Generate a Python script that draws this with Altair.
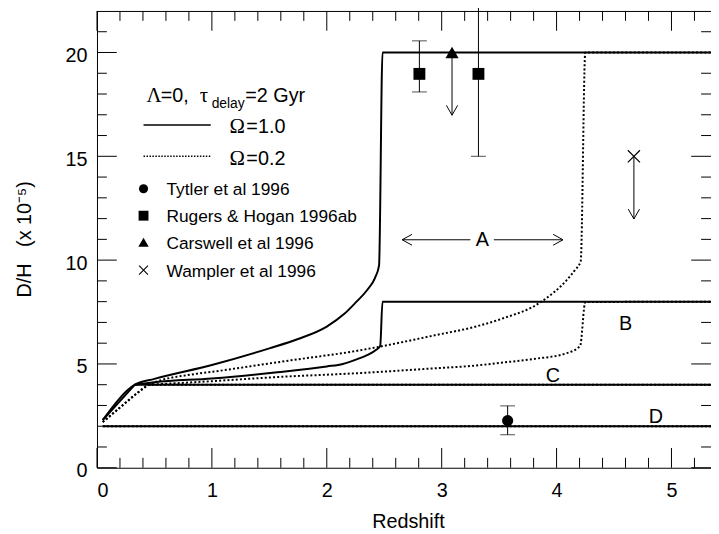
import altair as alt
import pandas as pd

W, H = 621, 462
XMAX, YMAX = 5.344, 22.0
FONT = "Liberation Sans"
SERIF = "Liberation Serif"

# ---------------- model curves: D/H (x1e-5) vs redshift ----------------
# Omega = 1.0 (solid)
om1_A_z = [0.05, 0.33, 0.5, 1.0, 1.5, 1.75, 2.0, 2.15, 2.25, 2.35, 2.42, 2.455, 2.485, 5.35]
om1_A_v = [2.3, 4.0, 4.28, 4.95, 5.75, 6.2, 6.8, 7.4, 7.95, 8.55, 9.15, 9.75, 20.0, 20.0]
om1_B_z = [0.33, 0.5, 1.0, 1.57, 2.0, 2.14, 2.24, 2.35, 2.43, 2.465, 2.485, 5.35]
om1_B_v = [4.0, 4.12, 4.3, 4.6, 4.88, 5.0, 5.18, 5.42, 5.68, 5.87, 8.0, 8.0]
om1_C_z = [0.05, 0.33, 5.35]
om1_C_v = [2.3, 4.0, 4.0]
om1_D_z = [0.05, 5.35]
om1_D_v = [2.0, 2.0]
# Omega = 0.2 (dotted)
om2_A_z = [0.05, 0.2, 0.35, 0.45, 0.86, 1.0, 1.57, 1.72, 2.25, 2.43, 2.94, 3.29, 3.52, 3.86, 4.09, 4.16, 4.21, 4.25, 5.35]
om2_A_v = [2.2, 2.9, 3.6, 4.0, 4.52, 4.62, 5.08, 5.2, 5.62, 5.8, 6.38, 6.79, 7.17, 7.97, 9.05, 9.52, 9.95, 20.0, 20.0]
om2_B_z = [0.45, 1.0, 1.57, 2.25, 2.94, 3.29, 3.52, 3.80, 4.09, 4.205, 4.25, 5.35]
om2_B_v = [4.0, 4.17, 4.37, 4.55, 4.79, 4.92, 5.06, 5.24, 5.52, 5.87, 7.98, 8.0]
om2_C_z = [0.05, 0.2, 0.35, 0.45, 5.35]
om2_C_v = [2.2, 2.9, 3.6, 4.0, 4.0]
om2_D_z = [0.05, 5.35]
om2_D_v = [2.0, 2.0]

# ---------------- observations ----------------
tytler_z, tytler_v, tytler_lo, tytler_hi = [3.574], [2.27], [1.59], [2.98]
rugers_z, rugers_v = [2.806, 3.32], [18.97, 18.97]
rugers_lo, rugers_hi = [18.1, 15.0], [20.56, 22.4]
carswell_z, carswell_v, carswell_lim = [3.09], [20.0], [16.98]
wampler_z, wampler_v, wampler_lim = [4.673], [15.0], [11.98]

# error-bar caps
cap_z = [3.574, 3.574, 2.806, 2.806, 3.32]
cap_v = [1.59, 2.98, 18.1, 20.56, 15.0]

# ---------------- annotations ----------------
regions = ["A", "B", "C", "D"]
region_z = [3.354, 4.601, 3.967, 4.865]
region_v = [10.95, 6.9, 4.44, 2.43]
arrowA_z1, arrowA_z2, arrowA_v = [2.656, 3.454], [3.25, 4.056], [10.98, 10.98]
arrowA_left_z, arrowA_right_z = [2.656], [4.056]

# legend
leg_line_z1, leg_line_z2 = [0.405], [0.99]
leg_solid_v, leg_dot_v = [16.51], [15.0]
leg_marker_z = 0.405
leg_marker_v = [13.44, 12.14, 10.86, 9.52]
leg_text = ["Tytler et al 1996", "Rugers & Hogan 1996ab", "Carswell et al 1996", "Wampler et al 1996"]
leg_text_z = 0.605
leg_text_v = [13.13, 11.83, 10.55, 9.21]

hdr_text = ["=0,", "delay", "=2 Gyr", "=1.0", "=0.2"]
hdr_z = [0.554, 0.998, 1.291, 1.30, 1.30]
hdr_v = [17.62, 17.33, 17.62, 16.11, 14.6]
hdr_fs = [20, 14, 20, 20, 20]
greek_text = ["Λ", "τ", "Ω", "Ω"]
greek_z = [0.43, 0.895, 1.153, 1.153]
greek_v = [17.62, 17.62, 16.11, 14.6]

# ticks
x_major = [0, 1, 2, 3, 4, 5]
x_minor = [0.2, 0.4, 0.6, 0.8, 1.2, 1.4, 1.6, 1.8, 2.2, 2.4, 2.6, 2.8,
           3.2, 3.4, 3.6, 3.8, 4.2, 4.4, 4.6, 4.8, 5.2]
y_major = [0, 5, 10, 15, 20]
y_minor = [1, 2, 3, 4, 6, 7, 8, 9, 11, 12, 13, 14, 16, 17, 18, 19, 21]

# ---------------- encodings ----------------
xscale = alt.Scale(domain=[0, XMAX], nice=False, zero=False)
yscale = alt.Scale(domain=[0, YMAX], nice=False, zero=False)
xaxis = alt.Axis(values=x_major, format="d", ticks=False, tickSize=0, grid=False,
                 domain=True, domainColor="black", domainWidth=1,
                 labelFont=FONT, labelFontSize=20, labelColor="black", labelPadding=13,
                 title="Redshift", titleFont=FONT, titleFontSize=20, titleFontWeight="normal",
                 titleColor="black", titleX=314.5, titleY=60, titleBaseline="alphabetic",
                 titleAlign="center", titleAnchor="start")
yaxis = alt.Axis(values=y_major, format="d", ticks=False, tickSize=0, grid=False,
                 domain=True, domainColor="black", domainWidth=1,
                 labelFont=FONT, labelFontSize=20, labelColor="black", labelPadding=10,
                 labelOffset=3,
                 title="D/H\u00a0\u00a0\u00a0(x 10⁻⁵)", titleFont=FONT, titleFontSize=20,
                 titleFontWeight="normal", titleColor="black", titleAngle=270,
                 titleX=-67, titleY=230.5, titleBaseline="alphabetic", titleAlign="center",
                 titleAnchor="start")


def X(f="z"):
    return alt.X(f"{f}:Q", scale=xscale, axis=xaxis)


def Y(f="v"):
    return alt.Y(f"{f}:Q", scale=yscale, axis=yaxis)


def curves(items):
    frames = []
    for name, z, v in items:
        frames.append(pd.DataFrame({"z": z, "v": v, "curve": name, "i": list(range(len(z)))}))
    return pd.concat(frames, ignore_index=True)


solid_smooth = curves([("A", om1_A_z, om1_A_v), ("B", om1_B_z, om1_B_v)])
solid_lin = curves([("C", om1_C_z, om1_C_v), ("D", om1_D_z, om1_D_v)])
dot_smooth = curves([("A", om2_A_z, om2_A_v), ("B", om2_B_z, om2_B_v)])
dot_lin = curves([("C", om2_C_z, om2_C_v), ("D", om2_D_z, om2_D_v)])

layers = []

# frame top line
frame_df = pd.DataFrame({"k": [0]})
layers.append(alt.Chart(frame_df).mark_rule(color="black", strokeWidth=1).encode(
    x=alt.value(0), x2=alt.value(W), y=alt.value(0.5)))

# ticks (inward)
xmaj = pd.DataFrame({"z": x_major})
xmin = pd.DataFrame({"z": x_minor})
ymaj = pd.DataFrame({"v": y_major})
ymin = pd.DataFrame({"v": y_minor})
for df, L in [(xmaj, 20), (xmin, 10)]:
    layers.append(alt.Chart(df).mark_rule(color="black", strokeWidth=1).encode(
        x=X(), y=alt.value(H), y2=alt.value(H - L)))
    layers.append(alt.Chart(df).mark_rule(color="black", strokeWidth=1).encode(
        x=X(), y=alt.value(0), y2=alt.value(L)))
for df, L in [(ymaj, 20), (ymin, 10)]:
    layers.append(alt.Chart(df).mark_rule(color="black", strokeWidth=1).encode(
        y=Y(), x=alt.value(0), x2=alt.value(L)))
    layers.append(alt.Chart(df).mark_rule(color="black", strokeWidth=1).encode(
        y=Y(), x=alt.value(W), x2=alt.value(W - L)))

# model curves
for df, interp in [(dot_smooth, "monotone"), (dot_lin, "linear")]:
    layers.append(alt.Chart(df).mark_line(color="black", strokeWidth=2, strokeDash=[2, 2.2],
                                          clip=True, interpolate=interp).encode(
        x=X(), y=Y(), detail="curve:N", order="i:Q"))
for df, interp in [(solid_smooth, "monotone"), (solid_lin, "linear")]:
    layers.append(alt.Chart(df).mark_line(color="black", strokeWidth=2, clip=True,
                                          interpolate=interp).encode(
        x=X(), y=Y(), detail="curve:N", order="i:Q"))

# error bars
err_df = pd.DataFrame({"z": tytler_z + rugers_z, "lo": tytler_lo + rugers_lo,
                       "hi": tytler_hi + rugers_hi})
layers.append(alt.Chart(err_df).mark_rule(color="black", strokeWidth=1).encode(
    x=X(), y=Y("lo"), y2="hi:Q"))
cap_df = pd.DataFrame({"z": cap_z, "v": cap_v})
layers.append(alt.Chart(cap_df).mark_tick(color="black", orient="horizontal", size=15,
                                          thickness=1).encode(x=X(), y=Y()))

# upper-limit arrows
lim_df = pd.DataFrame({"z": carswell_z + wampler_z, "v": carswell_v + wampler_v,
                       "lim": carswell_lim + wampler_lim})
layers.append(alt.Chart(lim_df).mark_rule(color="black", strokeWidth=1).encode(
    x=X(), y=Y(), y2="lim:Q"))
layers.append(alt.Chart(lim_df).mark_point(shape="M-0.57,-1L0,0L0.57,-1", size=400,
                                           filled=False, color="black", strokeWidth=1,
                                           opacity=1).encode(x=X(), y=Y("lim")))

# symbols
layers.append(alt.Chart(pd.DataFrame({"z": tytler_z, "v": tytler_v})).mark_point(
    shape="circle", size=127, filled=True, color="black", opacity=1).encode(x=X(), y=Y()))
layers.append(alt.Chart(pd.DataFrame({"z": rugers_z, "v": rugers_v})).mark_point(
    shape="square", size=144, filled=True, color="black", opacity=1).encode(x=X(), y=Y()))
layers.append(alt.Chart(pd.DataFrame({"z": carswell_z, "v": carswell_v})).mark_point(
    shape="triangle-up", size=177, filled=True, color="black", opacity=1).encode(x=X(), y=Y()))
layers.append(alt.Chart(pd.DataFrame({"z": wampler_z, "v": wampler_v})).mark_point(
    shape="M-1,-1L1,1M1,-1L-1,1", size=151, filled=False, color="black", strokeWidth=1.2,
    opacity=1).encode(x=X(), y=Y()))

# region A arrow
arrA = pd.DataFrame({"z": arrowA_z1, "z2": arrowA_z2, "v": arrowA_v})
layers.append(alt.Chart(arrA).mark_rule(color="black", strokeWidth=1).encode(
    x=X(), x2="z2:Q", y=Y()))
layers.append(alt.Chart(pd.DataFrame({"z": arrowA_left_z, "v": [arrowA_v[0]]})).mark_point(
    shape="M1,-0.55L0,0L1,0.55", size=400, filled=False, color="black", strokeWidth=1,
    opacity=1).encode(x=X(), y=Y()))
layers.append(alt.Chart(pd.DataFrame({"z": arrowA_right_z, "v": [arrowA_v[0]]})).mark_point(
    shape="M-1,-0.55L0,0L-1,0.55", size=400, filled=False, color="black", strokeWidth=1,
    opacity=1).encode(x=X(), y=Y()))

# region labels
reg_df = pd.DataFrame({"z": region_z, "v": region_v, "t": regions})
layers.append(alt.Chart(reg_df).mark_text(font=FONT, fontSize=20, color="black",
                                          align="center", baseline="middle").encode(
    x=X(), y=Y(), text="t:N"))

# legend: line samples
layers.append(alt.Chart(pd.DataFrame({"z": leg_line_z1, "z2": leg_line_z2, "v": leg_solid_v})
                        ).mark_rule(color="black", strokeWidth=1.5).encode(x=X(), x2="z2:Q", y=Y()))
layers.append(alt.Chart(pd.DataFrame({"z": leg_line_z1, "z2": leg_line_z2, "v": leg_dot_v})
                        ).mark_rule(color="black", strokeWidth=1.5, strokeDash=[1.5, 1.5]).encode(
    x=X(), x2="z2:Q", y=Y()))

# legend: markers
layers.append(alt.Chart(pd.DataFrame({"z": [leg_marker_z], "v": [leg_marker_v[0]]})).mark_point(
    shape="circle", size=85, filled=True, color="black", opacity=1).encode(x=X(), y=Y()))
layers.append(alt.Chart(pd.DataFrame({"z": [leg_marker_z], "v": [leg_marker_v[1]]})).mark_point(
    shape="square", size=100, filled=True, color="black", opacity=1).encode(x=X(), y=Y()))
layers.append(alt.Chart(pd.DataFrame({"z": [leg_marker_z], "v": [leg_marker_v[2]]})).mark_point(
    shape="triangle-up", size=110, filled=True, color="black", opacity=1).encode(x=X(), y=Y()))
layers.append(alt.Chart(pd.DataFrame({"z": [leg_marker_z], "v": [leg_marker_v[3]]})).mark_point(
    shape="M-1,-1L1,1M1,-1L-1,1", size=81, filled=False, color="black", strokeWidth=1.1,
    opacity=1).encode(x=X(), y=Y()))

# legend: texts
leg_df = pd.DataFrame({"z": leg_text_z, "v": leg_text_v, "t": leg_text})
layers.append(alt.Chart(leg_df).mark_text(font=FONT, fontSize=17.5, color="black",
                                          align="left", baseline="alphabetic").encode(
    x=X(), y=Y(), text="t:N"))
hdr_df = pd.DataFrame({"z": hdr_z, "v": hdr_v, "t": hdr_text, "fs": hdr_fs})
layers.append(alt.Chart(hdr_df).mark_text(font=FONT, color="black", align="left",
                                          baseline="alphabetic").encode(
    x=X(), y=Y(), text="t:N", size=alt.Size("fs:Q", scale=None)))
greek_df = pd.DataFrame({"z": greek_z, "v": greek_v, "t": greek_text})
layers.append(alt.Chart(greek_df).mark_text(font=SERIF, fontSize=21, color="black",
                                            align="left", baseline="alphabetic").encode(
    x=X(), y=Y(), text="t:N"))

chart = alt.layer(*layers).properties(
    width=W, height=H,
    autosize=alt.AutoSizeParams(type="none"),
    padding={"left": 90, "top": 0, "right": 0, "bottom": 64},
    background="white",
).configure_view(stroke=None)

chart.save("out.html", embed_options={"renderer": "svg", "actions": False})
